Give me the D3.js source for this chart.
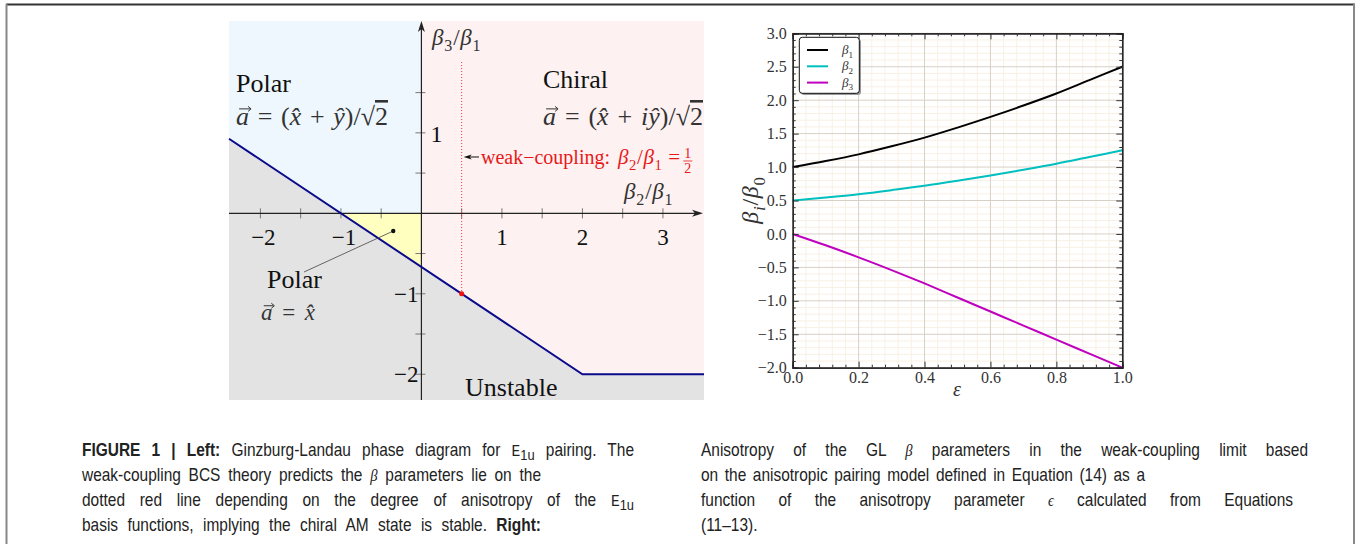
<!DOCTYPE html>
<html>
<head>
<meta charset="utf-8">
<script src="https://cdn.jsdelivr.net/npm/d3@7"></script>
<style>
  body { margin: 0; background: #fff; }
  svg { display: block; }
</style>
</head>
<body>
<svg id="fig" width="1361" height="544"></svg>
<script>
// ---- left panel: GL phase diagram ----
const boundary = [[-2.39, 0.927], [2, -2], [3.51, -2]];
const xTicksL = [-2, -1.5, -1, -0.5, 0.5, 1, 1.5, 2, 2.5, 3];
const xLabelsL = [-2, -1, 1, 2, 3];
const yTicksL = [-2, -1.5, -1, -0.5, 0.5, 1, 1.5];
const yLabelsL = [-2, -1];
const weakX = 0.5, weakY = -1, weakTop = 1.88;
const polarDot = [-0.35, -0.22];

// ---- right panel: beta_i / beta_0 vs epsilon ----
const eps = [0, 0.1, 0.2, 0.3, 0.4, 0.5, 0.6, 0.7, 0.8, 0.9, 1.0];
const beta1 = [1.0, 1.09, 1.19, 1.31, 1.44, 1.59, 1.75, 1.92, 2.10, 2.30, 2.50];
const beta2 = [0.5, 0.545, 0.595, 0.655, 0.72, 0.795, 0.875, 0.96, 1.05, 1.15, 1.25];
const beta3 = [0, -0.17, -0.35, -0.54, -0.74, -0.95, -1.16, -1.37, -1.58, -1.79, -2.0];
const seriesNames = ["β1", "β2", "β3"];
const seriesColors = ["#000000", "#00bfbf", "#bf00bf"];
const xTicksR = [0, 0.2, 0.4, 0.6, 0.8, 1.0];
const yTicksR = [-2, -1.5, -1, -0.5, 0, 0.5, 1, 1.5, 2, 2.5, 3];

const svg = d3.select("#fig");
const serif = "'Liberation Serif', 'DejaVu Serif', serif";
const sans = "'Liberation Sans', Arial, sans-serif";

// frame
svg.append("line").attr("x1", 6).attr("x2", 1355).attr("y1", 4.5).attr("y2", 4.5)
  .attr("stroke", "#333").attr("stroke-width", 2);
svg.append("line").attr("x1", 6.5).attr("x2", 6.5).attr("y1", 4).attr("y2", 544)
  .attr("stroke", "#888").attr("stroke-width", 2);
svg.append("line").attr("x1", 1354).attr("x2", 1354).attr("y1", 4).attr("y2", 544)
  .attr("stroke", "#888").attr("stroke-width", 2);

// rich text helper: parts = [text, kind]; kind: n normal, i italic, s sub, si sub italic
function rich(sel, parts, size) {
  let shift = 0;
  parts.forEach(([s, k]) => {
    const t = sel.append("tspan").text(s);
    let want = 0;
    if (k[0] === "s") { want = size * 0.28; t.attr("font-size", size * 0.7); }
    if (k.includes("i")) t.attr("font-style", "italic");
    if (want !== shift) { t.attr("dy", want - shift); shift = want; }
  });
  return sel;
}

// ================= LEFT =================
const xL = d3.scaleLinear().domain([-2.39, 3.51]).range([229, 704]);
const yL = d3.scaleLinear().domain([2.39, -2.32]).range([21, 400]);
const gL = svg.append("g");
const poly = d3.line().x(d => xL(d[0])).y(d => yL(d[1]));

// regions
gL.append("rect").attr("x", xL(-2.39)).attr("y", yL(2.39))
  .attr("width", xL(3.51) - xL(-2.39)).attr("height", yL(-2.32) - yL(2.39))
  .attr("fill", "#e3e3e3");
gL.append("path").attr("fill", "#eef7fd")
  .attr("d", poly([[-2.39, 2.39], [0, 2.39], [0, 0], [-1, 0], boundary[0]]) + "Z");
gL.append("path").attr("fill", "#fdf1f1")
  .attr("d", poly([[0, 2.39], [3.51, 2.39], boundary[2], boundary[1], [0, -2 / 3]]) + "Z");
gL.append("path").attr("fill", "#ffffc0")
  .attr("d", poly([[-1, 0], [0, 0], [0, -2 / 3]]) + "Z");

// ticks
gL.selectAll(".xt").data(xTicksL).join("line")
  .attr("x1", d => xL(d)).attr("x2", d => xL(d))
  .attr("y1", yL(0) - 5).attr("y2", yL(0) + 5)
  .attr("stroke", "#777").attr("stroke-width", 1);
gL.selectAll(".yt").data(yTicksL).join("line")
  .attr("y1", d => yL(d)).attr("y2", d => yL(d))
  .attr("x1", xL(0) - 6).attr("x2", xL(0) + 4)
  .attr("stroke", "#777").attr("stroke-width", 1);

// axes with arrows
gL.append("line").attr("x1", 229).attr("x2", 700).attr("y1", yL(0)).attr("y2", yL(0))
  .attr("stroke", "#222").attr("stroke-width", 1.2);
gL.append("path").attr("fill", "#222")
  .attr("d", `M703,${yL(0)} L692,${yL(0) - 3.5} L695,${yL(0)} L692,${yL(0) + 3.5} Z`);
gL.append("line").attr("x1", xL(0)).attr("x2", xL(0)).attr("y1", 400).attr("y2", 25)
  .attr("stroke", "#222").attr("stroke-width", 1.2);
gL.append("path").attr("fill", "#222")
  .attr("d", `M${xL(0)},21 L${xL(0) - 3.5},32 L${xL(0)},29 L${xL(0) + 3.5},32 Z`);

// boundary line
gL.append("path").attr("d", poly(boundary)).attr("fill", "none")
  .attr("stroke", "#0a0a8c").attr("stroke-width", 2);

// weak coupling dotted line + dot
gL.append("line").attr("x1", xL(weakX)).attr("x2", xL(weakX))
  .attr("y1", yL(weakTop)).attr("y2", yL(weakY))
  .attr("stroke", "#f03030").attr("stroke-width", 1).attr("stroke-dasharray", "1,2");
gL.append("circle").attr("cx", xL(weakX)).attr("cy", yL(weakY)).attr("r", 2.5).attr("fill", "#f01010");

// tick labels
gL.selectAll(".xl").data(xLabelsL).join("text")
  .attr("x", d => xL(d) + (d > 0 ? 0 : 3)).attr("y", yL(0) + 32)
  .attr("text-anchor", "middle").attr("font-family", serif).attr("font-size", 23)
  .attr("fill", "#111").text(d => d < 0 ? "−" + Math.abs(d) : d);
gL.selectAll(".yl").data(yLabelsL).join("text")
  .attr("x", xL(0) - 3).attr("y", d => yL(d) + 8)
  .attr("text-anchor", "end").attr("font-family", serif).attr("font-size", 23)
  .attr("fill", "#111").text(d => "−" + Math.abs(d));
gL.append("text").attr("x", xL(0) + 9).attr("y", yL(1) + 9)
  .attr("font-family", serif).attr("font-size", 24).attr("fill", "#111").text("1");

// axis labels
rich(gL.append("text").attr("x", 432).attr("y", 45).attr("font-family", serif)
  .attr("font-size", 23).attr("letter-spacing", 0.8).attr("fill", "#333"),
  [["β", "i"], ["3", "s"], ["/", "n"], ["β", "i"], ["1", "s"]], 23);
rich(gL.append("text").attr("x", 624).attr("y", 199).attr("font-family", serif)
  .attr("font-size", 23).attr("letter-spacing", 0.8).attr("fill", "#333"),
  [["β", "i"], ["2", "s"], ["/", "n"], ["β", "i"], ["1", "s"]], 23);

// region labels
gL.append("text").attr("x", 236).attr("y", 92).attr("font-family", serif)
  .attr("font-size", 26).attr("fill", "#111").text("Polar");
gL.append("text").attr("x", 543).attr("y", 88).attr("font-family", serif)
  .attr("font-size", 26).attr("fill", "#111").text("Chiral");
gL.append("text").attr("x", 465).attr("y", 396).attr("font-family", serif)
  .attr("font-size", 26).attr("fill", "#111").text("Unstable");
gL.append("text").attr("x", 267).attr("y", 288).attr("font-family", serif)
  .attr("font-size", 26).attr("fill", "#111").text("Polar");

// a-vector formulas; the arrow over "a" is drawn by hand, width fitted to the reference
function vecFormula(x, y, size, w, parts) {
  const t = gL.append("text").attr("x", x).attr("y", y).attr("font-family", serif)
    .attr("font-size", size).attr("fill", "#333");
  parts.forEach(([s, k]) => {
    const sp = t.append("tspan").text(s);
    if (k === "i") sp.attr("font-style", "italic");
    if (k === "o") sp.attr("text-decoration", "overline");
  });
  const n = t.node();
  const nat = n.getComputedTextLength();
  const spaces = parts.reduce((a, p) => a + (p[0].match(/ /g) || []).length, 0);
  t.attr("word-spacing", Math.max(0, (w - nat) / spaces));
  const x0 = n.getStartPositionOfChar(0).x, x1 = n.getEndPositionOfChar(0).x;
  const ay = y - size * 0.62;
  const a0 = x0 + size * 0.12, a1 = x1 + size * 0.08;
  gL.append("line").attr("x1", a0).attr("x2", a1 - 1).attr("y1", ay).attr("y2", ay)
    .attr("stroke", "#333").attr("stroke-width", 1);
  gL.append("path").attr("fill", "none").attr("stroke", "#333").attr("stroke-width", 1)
    .attr("d", `M${a1 - 3},${ay - 2.5} L${a1},${ay} L${a1 - 3},${ay + 2.5}`);
  return t;
}
vecFormula(236, 125, 26, 152, [["a", "i"], [" = (", "n"], ["x̂", "i"], [" + ", "n"], ["ŷ", "i"], [")/√", "n"], ["2", "o"]]);
vecFormula(543, 125, 26, 160, [["a", "i"], [" = (", "n"], ["x̂", "i"], [" + ", "n"], ["iŷ", "i"], [")/√", "n"], ["2", "o"]]);
vecFormula(261, 320, 23, 54, [["a", "i"], [" = ", "n"], ["x̂", "i"]]);

// pointer to polar region
gL.append("line").attr("x1", 304).attr("y1", 272)
  .attr("x2", xL(polarDot[0])).attr("y2", yL(polarDot[1]))
  .attr("stroke", "#444").attr("stroke-width", 0.8);
gL.append("circle").attr("cx", xL(polarDot[0])).attr("cy", yL(polarDot[1])).attr("r", 2.2).attr("fill", "#111");

// weak-coupling annotation
const wy = yL(0.7);
gL.append("line").attr("x1", 479).attr("x2", xL(weakX) + 6).attr("y1", wy).attr("y2", wy)
  .attr("stroke", "#111").attr("stroke-width", 1);
gL.append("path").attr("fill", "#111")
  .attr("d", `M${xL(weakX) + 2},${wy} L${xL(weakX) + 10},${wy - 2.5} L${xL(weakX) + 8},${wy} L${xL(weakX) + 10},${wy + 2.5} Z`);
const wt = gL.append("text").attr("x", 481).attr("y", wy + 7).attr("font-family", serif)
  .attr("font-size", 20).attr("fill", "#e81818").text("weak−coupling:");
const wx2 = 481 + wt.node().getComputedTextLength() + 8;
const wt2 = rich(gL.append("text").attr("x", wx2).attr("y", wy + 7).attr("font-family", serif)
  .attr("font-size", 21).attr("letter-spacing", 0.6).attr("fill", "#e81818"),
  [["β", "i"], ["2", "s"], ["/", "n"], ["β", "i"], ["1", "s"], ["  = ", "n"]], 21);
const fx = wx2 + wt2.node().getComputedTextLength() + 7;
gL.append("text").attr("x", fx).attr("y", wy + 1).attr("text-anchor", "middle")
  .attr("font-family", serif).attr("font-size", 14).attr("fill", "#e81818").text("1");
gL.append("line").attr("x1", fx - 4.5).attr("x2", fx + 4.5).attr("y1", wy + 4).attr("y2", wy + 4)
  .attr("stroke", "#e81818").attr("stroke-width", 0.8);
gL.append("text").attr("x", fx).attr("y", wy + 16).attr("text-anchor", "middle")
  .attr("font-family", serif).attr("font-size", 14).attr("fill", "#e81818").text("2");

// ================= RIGHT =================
const xR = d3.scaleLinear().domain([0, 1]).range([792.7, 1122.3]);
const yR = d3.scaleLinear().domain([-2, 3]).range([367.7, 33.3]);
const gR = svg.append("g");

gR.append("rect").attr("x", xR(0)).attr("y", yR(3))
  .attr("width", xR(1) - xR(0)).attr("height", yR(-2) - yR(3)).attr("fill", "#fff");

// minor grid
const minorX = d3.range(1, 25).map(i => i * 0.04).filter(v => Math.round(v * 100) % 20 !== 0);
const minorY = d3.range(-19, 30).map(i => i * 0.1).filter(v => Math.round(v * 10) % 5 !== 0);
gR.selectAll(".mgx").data(minorX).join("line")
  .attr("x1", d => xR(d)).attr("x2", d => xR(d)).attr("y1", yR(3)).attr("y2", yR(-2))
  .attr("stroke", "#f8f0e4").attr("stroke-width", 1);
gR.selectAll(".mgy").data(minorY).join("line")
  .attr("y1", d => yR(d)).attr("y2", d => yR(d)).attr("x1", xR(0)).attr("x2", xR(1))
  .attr("stroke", "#f8f0e4").attr("stroke-width", 1);
// major grid
gR.selectAll(".gx").data(xTicksR).join("line")
  .attr("x1", d => xR(d)).attr("x2", d => xR(d)).attr("y1", yR(3)).attr("y2", yR(-2))
  .attr("stroke", "#d8d0c6").attr("stroke-width", 1);
gR.selectAll(".gy").data(yTicksR).join("line")
  .attr("y1", d => yR(d)).attr("y2", d => yR(d)).attr("x1", xR(0)).attr("x2", xR(1))
  .attr("stroke", "#d8d0c6").attr("stroke-width", 1);

// series
const seriesVals = [beta1, beta2, beta3];
const lineR = d3.line().curve(d3.curveMonotoneX).x((d, i) => xR(eps[i])).y(d => yR(d));
seriesVals.forEach((vals, k) => {
  gR.append("path").attr("d", lineR(vals)).attr("fill", "none")
    .attr("stroke", seriesColors[k]).attr("stroke-width", 2);
});

// axes (inward ticks)
const fmt = d3.format(".1f");
gR.append("g").attr("transform", `translate(0,${yR(-2)})`)
  .call(d3.axisBottom(xR).tickValues(xTicksR).tickSize(-6).tickPadding(4).tickFormat(fmt));
gR.append("g").attr("transform", `translate(${xR(0)},0)`)
  .call(d3.axisLeft(yR).tickValues(yTicksR).tickSize(-6).tickPadding(6).tickFormat(fmt));
gR.append("g").attr("transform", `translate(0,${yR(3)})`)
  .call(d3.axisTop(xR).tickValues(xTicksR).tickSize(-6).tickFormat(""));
gR.append("g").attr("transform", `translate(${xR(1)},0)`)
  .call(d3.axisRight(yR).tickValues(yTicksR).tickSize(-6).tickFormat(""));
// minor ticks
gR.append("g").attr("transform", `translate(0,${yR(-2)})`)
  .call(d3.axisBottom(xR).tickValues(minorX).tickSize(-3).tickFormat(""));
gR.append("g").attr("transform", `translate(${xR(0)},0)`)
  .call(d3.axisLeft(yR).tickValues(minorY).tickSize(-3).tickFormat(""));
gR.append("g").attr("transform", `translate(${xR(1)},0)`)
  .call(d3.axisRight(yR).tickValues(minorY).tickSize(-3).tickFormat(""));
gR.append("g").attr("transform", `translate(0,${yR(3)})`)
  .call(d3.axisTop(xR).tickValues(minorX).tickSize(-3).tickFormat(""));
gR.selectAll(".domain").attr("stroke", "#222").attr("stroke-width", 1.2);
gR.selectAll(".tick line").attr("stroke", "#333");
gR.selectAll(".tick text").attr("font-family", serif).attr("font-size", 16).attr("fill", "#333");

// axis titles
rich(gR.append("text").attr("transform", `translate(758,200) rotate(-90)`)
  .attr("text-anchor", "middle").attr("font-family", serif).attr("font-size", 24)
  .attr("letter-spacing", 0.8).attr("fill", "#333"),
  [["β", "i"], ["i", "si"], ["/", "n"], ["β", "i"], ["0", "s"]], 24);
gR.append("text").attr("x", 957).attr("y", 396).attr("text-anchor", "middle")
  .attr("font-family", serif).attr("font-size", 20).attr("font-style", "italic")
  .attr("fill", "#333").text("ε");

// legend
gR.append("rect").attr("x", 801).attr("y", 39).attr("width", 60).attr("height", 56)
  .attr("rx", 3).attr("fill", "#999");
gR.append("rect").attr("x", 799.3).attr("y", 37.3).attr("width", 60).attr("height", 56)
  .attr("rx", 3).attr("fill", "#fff").attr("stroke", "#111").attr("stroke-width", 1);
seriesNames.forEach((nm, k) => {
  const ly = 50 + k * 16.3;
  gR.append("line").attr("x1", 807).attr("x2", 828).attr("y1", ly).attr("y2", ly)
    .attr("stroke", seriesColors[k]).attr("stroke-width", 2);
  rich(gR.append("text").attr("x", 842).attr("y", ly + 4).attr("font-family", serif)
    .attr("font-size", 13).attr("fill", "#333"),
    [[nm[0], "i"], [nm.slice(1), "s"]], 13);
});

// ================= CAPTION =================
const capSize = 18, capScale = 0.86;
const capLines = [
  { x: 82, y: 456, w: 552, parts: [["FIGURE 1 | Left:", "b"], [" Ginzburg-Landau phase diagram for ", "n"], ["E", "m"], ["1u", "s"], [" pairing. The", "n"]] },
  { x: 82, y: 481, w: 459, parts: [["weak-coupling BCS theory predicts the ", "n"], ["β", "g"], [" parameters lie on the", "n"]] },
  { x: 82, y: 506, w: 552, parts: [["dotted red line depending on the degree of anisotropy of the ", "n"], ["E", "m"], ["1u", "s"]] },
  { x: 82, y: 531, w: 459, parts: [["basis functions, implying the chiral AM state is stable. ", "n"], ["Right:", "b"]] },
  { x: 701, y: 456, w: 607, parts: [["Anisotropy of the GL ", "n"], ["β", "g"], [" parameters in the weak-coupling limit based", "n"]] },
  { x: 701, y: 481, w: 444, parts: [["on the anisotropic pairing model defined in Equation (14) as a", "n"]] },
  { x: 701, y: 506, w: 592, parts: [["function of the anisotropy parameter ", "n"], ["ϵ", "g"], [" calculated from Equations", "n"]] },
  { x: 701, y: 531, w: null, parts: [["(11–13).", "n"]] }
];
capLines.forEach(L => {
  const g = svg.append("g").attr("transform", `translate(${L.x},${L.y}) scale(${capScale},1)`);
  const t = g.append("text").attr("font-family", sans).attr("font-size", capSize).attr("fill", "#222");
  let shift = 0;
  L.parts.forEach(([s, k]) => {
    const sp = t.append("tspan").text(s);
    let want = 0;
    if (k === "b") sp.attr("font-weight", "bold");
    if (k === "m") sp.attr("font-family", "'Liberation Mono', 'DejaVu Sans Mono', monospace").attr("font-size", 17);
    if (k === "g") sp.attr("font-family", serif).attr("font-style", "italic").attr("font-size", 17);
    if (k === "s") { sp.attr("font-size", 15); want = 4; }
    if (want !== shift) { sp.attr("dy", want - shift); shift = want; }
  });
  if (L.w) {
    const nat = t.node().getComputedTextLength() * capScale;
    const spaces = L.parts.reduce((a, p) => a + (p[0].match(/ /g) || []).length, 0);
    const ws = (L.w - nat) / capScale / spaces;
    t.attr("word-spacing", ws);
  }
});
</script>
</body>
</html>
